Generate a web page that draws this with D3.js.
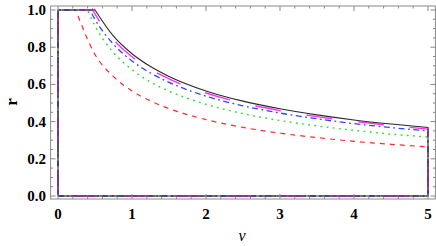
<!DOCTYPE html>
<html>
<head>
<meta charset="utf-8">
<script src="https://cdn.jsdelivr.net/npm/d3@7"></script>
<style>
  body { margin: 0; background: #fff; }
  svg { display: block; }
</style>
</head>
<body>
<svg id="chart"></svg>
<script>
// nu sample points (shared by all curves after their cut-off)
const nuPts = [0.75, 1, 1.25, 1.5, 2, 2.5, 3, 3.5, 4, 4.5, 5];

// where each curve leaves r = 1
const cutRed = 0.24, cutGreen = 0.40, cutBlue = 0.43, cutMagenta = 0.47, cutBlack = 0.50;

// r values at nuPts
const rRed     = [0.642, 0.565, 0.511, 0.470, 0.411, 0.369, 0.338, 0.314, 0.294, 0.278, 0.264];
const rGreen   = [0.771, 0.679, 0.613, 0.564, 0.493, 0.443, 0.406, 0.377, 0.353, 0.333, 0.317];
const rBlue    = [0.816, 0.726, 0.661, 0.611, 0.537, 0.485, 0.446, 0.415, 0.389, 0.368, 0.350];
const rMagenta = [0.841, 0.749, 0.681, 0.630, 0.554, 0.500, 0.459, 0.427, 0.401, 0.379, 0.360];
const rBlack   = [0.859, 0.765, 0.696, 0.643, 0.565, 0.510, 0.469, 0.436, 0.409, 0.387, 0.368];

// extra point at nu = 0.5 (read near the corner)
const rRedHalf = 0.761, rGreenHalf = 0.915, rBlueHalf = 0.949, rMagentaHalf = 0.979;

const xTicks = [0, 1, 2, 3, 4, 5];
const yTicks = [0.0, 0.2, 0.4, 0.6, 0.8, 1.0];

const width = 436, height = 246;
const svg = d3.select('#chart').attr('width', width).attr('height', height);

const x = d3.scaleLinear().domain([-0.1, 5.1]).range([50.6, 435.4]);
const y = d3.scaleLinear().domain([-0.016, 1.0215]).range([199, 6]);

const frameColor = '#8a8a8a';
const font = '"Liberation Serif", "Times New Roman", serif';

// curve outline: (0,0) up to (0,1), along r=1 to the cut-off, then the curve, then down to (5,0) and back
function outline(cut, half, rs) {
  let tail = [[cut, 1]];
  if (half != null) tail.push([0.5, half]);
  nuPts.forEach((n, i) => tail.push([n, rs[i]]));
  return { head: [[0, 0], [0, 1], [cut, 1]], tail: tail };
}

const series = [
  { cut: cutRed, half: rRedHalf, r: rRed, color: '#ff2a2a', dash: '5,5', w: 1.2 },
  { cut: cutGreen, half: rGreenHalf, r: rGreen, color: '#22dd22', dash: '1.8,4.4', w: 1.4 },
  { cut: cutBlue, half: rBlueHalf, r: rBlue, color: '#3344ff', dash: '6,3.5,1.8,3.5', w: 1.3 },
  { cut: cutMagenta, half: rMagentaHalf, r: rMagenta, color: '#ff33ff', dash: '26,26', w: 1.4 },
  { cut: cutBlack, half: null, r: rBlack, color: '#2a2a2a', dash: null, w: 1.1 }
];

const lineStraight = d3.line().x(d => x(d[0])).y(d => y(d[1]));
const lineCurve = d3.line().x(d => x(d[0])).y(d => y(d[1])).curve(d3.curveMonotoneX);

const plot = svg.append('g');

series.forEach(s => {
  const o = outline(s.cut, s.half, s.r);
  const last = o.tail[o.tail.length - 1];
  const closing = [last, [5, 0], [0, 0]];
  const d = lineStraight(o.head) + lineCurve(o.tail).replace(/^M[^LC]*/, 'L' + x(s.cut) + ',' + y(1)) +
    lineStraight(closing).replace(/^M/, 'L');
  plot.append('path')
    .attr('d', d)
    .attr('fill', 'none')
    .attr('stroke', s.color)
    .attr('stroke-width', s.w)
    .attr('stroke-dasharray', s.dash);
});

// frame
const x0 = x.range()[0], x1 = x.range()[1], y0 = y.range()[0], y1 = y.range()[1];
svg.append('rect')
  .attr('x', x0).attr('y', y1)
  .attr('width', x1 - x0).attr('height', y0 - y1)
  .attr('fill', 'none').attr('stroke', frameColor).attr('stroke-width', 1);

// ticks (inward) on all four sides
const xMinor = d3.range(0, 5.01, 0.2).filter(v => Math.abs(v - Math.round(v)) > 1e-6);
const yMinor = d3.range(0, 1.001, 0.05).filter(v => Math.abs(v * 5 - Math.round(v * 5)) > 1e-6);
const tg = svg.append('g').attr('stroke', frameColor).attr('stroke-width', 1);
function xt(v, len) {
  tg.append('line').attr('x1', x(v)).attr('x2', x(v)).attr('y1', y0).attr('y2', y0 - len);
  tg.append('line').attr('x1', x(v)).attr('x2', x(v)).attr('y1', y1).attr('y2', y1 + len);
}
function yt(v, len) {
  tg.append('line').attr('y1', y(v)).attr('y2', y(v)).attr('x1', x0).attr('x2', x0 + len);
  tg.append('line').attr('y1', y(v)).attr('y2', y(v)).attr('x1', x1).attr('x2', x1 - len);
}
xTicks.forEach(v => xt(v, 5));
xMinor.forEach(v => xt(v, 2.5));
yTicks.forEach(v => yt(v, 5));
yMinor.forEach(v => yt(v, 2.5));

// tick labels
svg.append('g').selectAll('text').data(xTicks).join('text')
  .attr('x', d => x(d)).attr('y', 219)
  .attr('text-anchor', 'middle')
  .style('font-family', font).style('font-weight', 'bold').style('font-size', '15px')
  .text(d => d);

svg.append('g').selectAll('text').data(yTicks).join('text')
  .attr('x', 46).attr('y', d => y(d) + 5)
  .attr('text-anchor', 'end')
  .style('font-family', font).style('font-weight', 'bold').style('font-size', '15px')
  .text(d => d.toFixed(1));

// axis labels
svg.append('text')
  .attr('x', 242).attr('y', 241)
  .attr('text-anchor', 'middle')
  .style('font-family', font).style('font-style', 'italic').style('font-size', '16px')
  .text('ν');

svg.append('text')
  .attr('transform', 'translate(17,102) rotate(-90)')
  .attr('text-anchor', 'middle')
  .style('font-family', font).style('font-weight', 'bold').style('font-size', '17px')
  .text('r');
</script>
</body>
</html>
